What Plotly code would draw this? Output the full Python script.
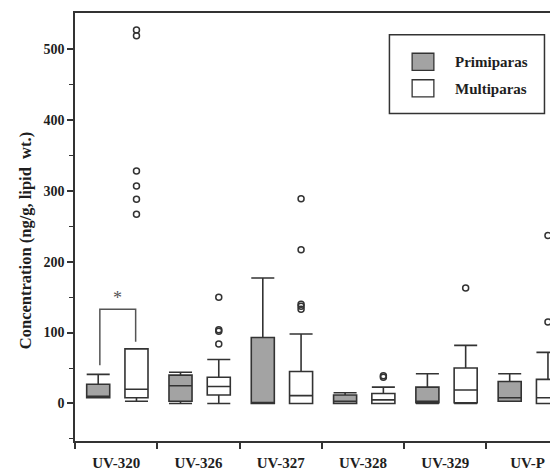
import plotly.graph_objects as go

categories = ["UV-320", "UV-326", "UV-327", "UV-328", "UV-329", "UV-P"]

primi_lower = [8, 0, 0, 0, 0, 3]
primi_q1 = [8, 3, 0, 0, 1, 3]
primi_median = [10, 25, 1, 3, 3, 8]
primi_q3 = [27, 40, 93, 12, 23, 31]
primi_upper = [41, 44, 177, 15, 42, 42]

multi_lower = [3, 0, 0, 0, 0, 0]
multi_q1 = [8, 12, 0, 0, 1, 0]
multi_median = [20, 24, 11, 5, 19, 8]
multi_q3 = [77, 37, 45, 14, 50, 34]
multi_upper = [77, 62, 98, 23, 82, 72]

multi_outliers = [
    [527, 519, 328, 307, 288, 267],
    [150, 104, 102, 84],
    [289, 217, 140, 137, 133],
    [39, 37],
    [163],
    [237, 115],
]

y_ticks = [0, 100, 200, 300, 400, 500]
sig_left, sig_right, sig_top = 54, 87, 133  # significance bracket for UV-320

FONT = "Liberation Serif"
LINE = "#333333"
GRAY = "#a3a3a3"
OFF_P, OFF_M, BOXW = -0.218, 0.247, 0.28

idx = list(range(len(categories)))
xp = [i + OFF_P for i in idx]
xm = [i + OFF_M for i in idx]

fig = go.Figure()
fig.add_trace(go.Box(
    x=xp, q1=primi_q1, median=primi_median, q3=primi_q3,
    lowerfence=primi_lower, upperfence=primi_upper,
    width=BOXW, whiskerwidth=1, fillcolor=GRAY,
    line=dict(color=LINE, width=1.6), boxpoints=False, name="Primiparas",
    showlegend=False))
fig.add_trace(go.Box(
    x=xm, q1=multi_q1, median=multi_median, q3=multi_q3,
    lowerfence=multi_lower, upperfence=multi_upper,
    width=BOXW, whiskerwidth=1, fillcolor="white",
    line=dict(color=LINE, width=1.6), boxpoints=False, name="Multiparas",
    showlegend=False))

ox, oy = [], []
for i, vals in enumerate(multi_outliers):
    for v in vals:
        ox.append(xm[i])
        oy.append(v)
fig.add_trace(go.Scatter(
    x=ox, y=oy, mode="markers", showlegend=False,
    marker=dict(symbol="circle-open", size=6, color=LINE, line=dict(width=1.5))))

# significance bracket
fig.add_shape(type="path", xref="x", yref="y",
              path=f"M {xp[0]+0.02},{sig_left} L {xp[0]+0.02},{sig_top} L {xm[0]-0.01},{sig_top} L {xm[0]-0.01},{sig_right}",
              line=dict(color="#555555", width=1.5))
fig.add_annotation(x=(xp[0] + xm[0]) / 2, y=sig_top + 16, xref="x", yref="y",
                   text="*", showarrow=False,
                   font=dict(family=FONT, size=18, color="#555555"))

# legend drawn manually
fig.add_shape(type="rect", xref="paper", yref="paper", x0=0.651, x1=0.972, y0=0.765, y1=0.949,
              line=dict(color=LINE, width=1.5), fillcolor="white")
fig.add_shape(type="rect", xref="paper", yref="paper", x0=0.698, x1=0.743, y0=0.866, y1=0.906,
              line=dict(color=LINE, width=1.3), fillcolor=GRAY)
fig.add_shape(type="rect", xref="paper", yref="paper", x0=0.698, x1=0.743, y0=0.804, y1=0.844,
              line=dict(color=LINE, width=1.3), fillcolor="white")
for txt, yy in [("Primiparas", 0.885), ("Multiparas", 0.822)]:
    fig.add_annotation(x=0.782, y=yy, xref="paper", yref="paper", xanchor="left", yanchor="middle",
                       text=txt, showarrow=False,
                       font=dict(family=FONT, size=15, color="#1e1e1e", weight="bold"))

# y-axis title
fig.add_annotation(x=-0.1035, y=0.467, xref="paper", yref="paper", textangle=-90,
                   xanchor="center", yanchor="middle",
                   text="Concentration (ng/g, lipid  wt.)", showarrow=False,
                   font=dict(family=FONT, size=16.5, color="#1e1e1e", weight="bold"))

fig.update_layout(
    width=550, height=463,
    margin=dict(l=67, r=0, t=5, b=28),
    plot_bgcolor="white", paper_bgcolor="white",
    xaxis=dict(range=[-0.5, 5.369], showgrid=False, zeroline=False,
               showline=True, linecolor=LINE, linewidth=1.5, mirror=True,
               tickmode="array", tickvals=idx, ticktext=categories,
               ticks="", ticklabelstandoff=7,
               tickfont=dict(family=FONT, size=15, color="#1e1e1e", weight="bold"),
               minor=dict(tickmode="array", tickvals=[i - 0.5 for i in idx],
                          ticks="outside", ticklen=6, tickwidth=1.5, tickcolor=LINE)),
    yaxis=dict(range=[-53, 551], showgrid=False, zeroline=False,
               showline=True, linecolor=LINE, linewidth=1.5,
               tickmode="array", tickvals=y_ticks,
               ticks="outside", ticklen=6, tickwidth=1.5, tickcolor=LINE,
               tickfont=dict(family=FONT, size=14, color="#1e1e1e", weight="bold"),
               minor=dict(tickmode="array", tickvals=[v + 50 for v in y_ticks[:-1]] + [-50],
                          ticks="outside", ticklen=4, tickwidth=1.2, tickcolor=LINE)),
)

fig.write_html("out.html")
